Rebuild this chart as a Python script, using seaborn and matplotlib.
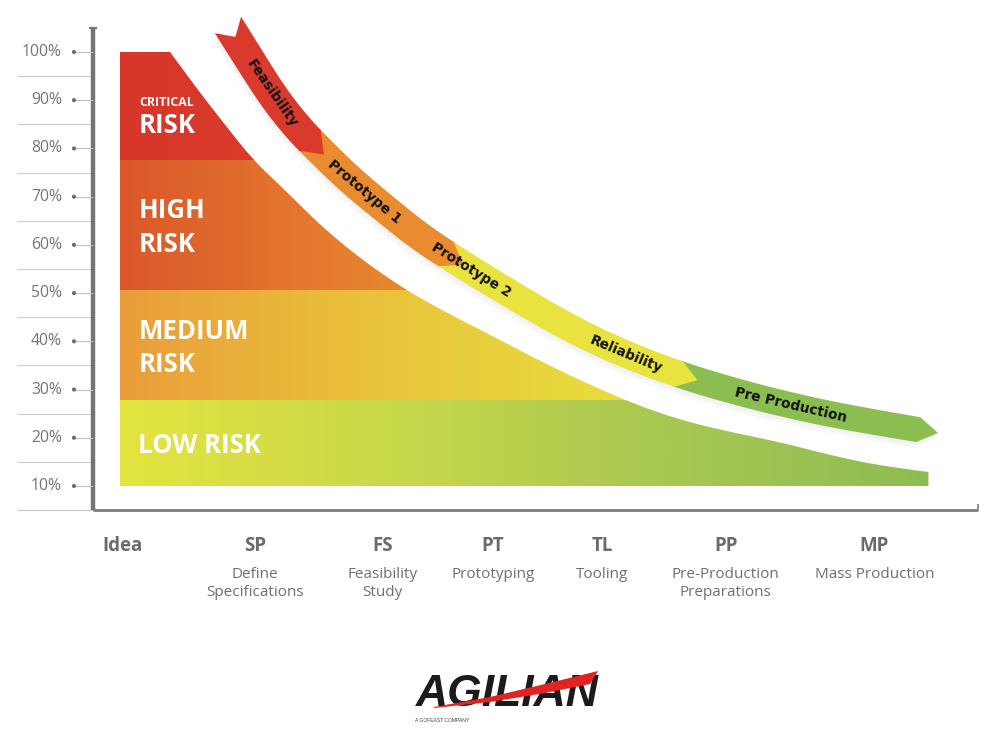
import numpy as np
import matplotlib
matplotlib.use("Agg")
import matplotlib.pyplot as plt
from matplotlib.patches import Polygon
import seaborn as sns

sns.set_theme(style="white")
plt.rcParams["font.family"] = ["Open Sans", "DejaVu Sans"]

# ---- data ----
pct_ticks = [10, 20, 30, 40, 50, 60, 70, 80, 90, 100]
grid_pct = [15, 25, 35, 45, 55, 65, 75, 85, 95]

stage_codes = ["Idea", "SP", "FS", "PT", "TL", "PP", "MP"]
stage_names = ["", "Define\nSpecifications", "Feasibility\nStudy", "Prototyping",
               "Tooling", "Pre-Production\nPreparations", "Mass Production"]
stage_x = [3.3, 18.3, 32.7, 45.2, 57.5, 71.5, 88.3]

# risk bands, bottom to top
band_lo = [10, 27.8, 50.6, 77.6]
band_hi = [27.8, 50.6, 77.6, 100]
band_colors = [["#e4e440", "#c8d84a", "#a8c752", "#8cbd52"],
               ["#e99d3a", "#eab73a", "#e9cd3c", "#e8de3e"],
               ["#db572b", "#e2712d", "#e98a30"],
               ["#d7362a", "#da3b2b"]]
band_left = 3.05

# risk curve (upper edge of the coloured area)
risk_x = [8.7, 10.7, 12.7, 15.4, 18.1, 22.0, 25.9, 30.4, 35.3, 40.0, 44.5,
          51.8, 60.0, 66.3, 72.0, 77.6, 83.3, 88.9, 94.4]
risk_y = [100.0, 95.0, 90.1, 83.8, 77.6, 70.8, 63.7, 56.9, 50.7, 45.9, 41.7,
          34.7, 27.8, 23.7, 21.2, 19.1, 16.4, 14.2, 12.9]

# phase arrow centre line
arrow_x = [15.25, 17.74, 20.45, 23.16, 25.88, 29.04, 32.43, 36.95, 41.81, 48.25,
           54.46, 60.23, 66.33, 73.11, 79.89, 86.67, 95.48]
arrow_y = [105.6, 98.3, 90.5, 84.2, 79.1, 73.5, 68.3, 61.6, 55.8, 48.6,
           42.1, 37.2, 33.0, 29.3, 26.2, 23.7, 21.0]
phase_end_x = [26.1, 41.8, 68.3, 95.48]
phase_colors = ["#d93a2b", "#e98c30", "#e8e33e", "#8cbd50"]
phase_names = ["Feasibility", "Prototype 1", "Prototype 2", "Reliability", "Pre Production"]
phase_label_x = [20.2, 30.7, 42.7, 60.2, 78.8]


def qspline(P, n=24):
    # quadratic b-spline through the read points, only used for drawing smooth edges
    P = np.asarray(P, dtype=float)
    out = [P[:1]]
    start = P[0]
    for i in range(1, len(P) - 1):
        end = P[-1] if i == len(P) - 2 else (P[i] + P[i + 1]) / 2
        t = np.linspace(0, 1, n)[1:, None]
        out.append((1 - t) ** 2 * start + 2 * (1 - t) * t * P[i] + t ** 2 * end)
        start = end
    return np.vstack(out)


# ---- figure ----
fig = plt.figure(figsize=(10, 7.34), dpi=100)
ax = fig.add_axes([0, 0, 1, 1])
ax.set_xlim(-10.508, 102.486)
ax.set_ylim(-41.43, 110.78)
ax.set_autoscale_on(False)
ax.axis("off")
inv = ax.transData.inverted()


def pix(px, py):
    return inv.transform((px, 734 - py))


# coloured risk area with horizontal gradients
edge = qspline(np.column_stack([risk_x, risk_y]))
area = np.vstack([[[band_left, 100]], edge, [[risk_x[-1], 10], [band_left, 10]]])
rx_rev, ry_rev = risk_x[::-1], risk_y[::-1]
for lo, hi, cols in zip(band_lo, band_hi, band_colors):
    right = np.interp(lo, ry_rev, rx_rev) + 1
    grad = np.array(sns.blend_palette(cols, n_colors=256))[None, :, :]
    clip = Polygon(area, closed=True, transform=ax.transData)
    im = ax.imshow(grad, extent=[band_left, right, lo, hi], aspect="auto",
                   interpolation="bicubic", zorder=1)
    im.set_clip_path(clip)

# axes, grid, ticks
ax.hlines(grid_pct, -8.6, 0, color="#cdcdcd", lw=0.8, zorder=1)
ax.hlines(5, -8.6, 0, color="#c4c4c4", lw=0.8, zorder=1)
ax.hlines(5, 0, 100, color="#7c7c7c", lw=2.0, zorder=2)
ax.vlines(100, 5, 6.3, color="#7c7c7c", lw=1.2)
ax.vlines(0, 5, 105, color="#747474", lw=3.2, zorder=2)
ax.hlines(105, -0.45, 0.5, color="#747474", lw=1.6)
ax.hlines(pct_ticks, -2.0, 0, color="#c2c2c2", lw=0.8)
sns.scatterplot(x=[-2.15] * len(pct_ticks), y=pct_ticks, s=9, color="#6e6e6e",
                edgecolor="none", ax=ax, zorder=3)
for v in pct_ticks:
    ax.text(-3.5, v, f"{v}%", ha="right", va="center", fontsize=11.3, color="#747474")

# stage labels
for code, name, sx in zip(stage_codes, stage_names, stage_x):
    ax.text(sx, -3.48, code, ha="center", va="baseline", fontsize=13.5,
            fontweight="bold", color="#6b6b6b")
    for i, line in enumerate(name.split("\n")):
        ax.text(sx, -9.08 - 3.75 * i, line, ha="center", va="baseline",
                fontsize=11, color="#6f6f6f")

# band labels
white = dict(color="white", fontweight="bold", ha="left", va="baseline", zorder=5)
ax.text(5.2, 88.8, "CRITICAL", fontsize=8.8, **white)
ax.text(5.1, 83.2, "RISK", fontsize=18.5, **white)
ax.text(5.1, 65.6, "HIGH", fontsize=18.5, **white)
ax.text(5.1, 58.5, "RISK", fontsize=18.5, **white)
ax.text(5.1, 40.5, "MEDIUM", fontsize=18.5, **white)
ax.text(5.1, 33.6, "RISK", fontsize=18.5, **white)
ax.text(5.1, 16.8, "LOW RISK", fontsize=18.5, **white)

# ---- phase arrow ----
C = qspline(ax.transData.transform(np.column_stack([arrow_x, arrow_y])), n=30)
d = np.diff(C, axis=0)
s = np.concatenate([[0], np.cumsum(np.hypot(d[:, 0], d[:, 1]))])
keep = np.concatenate([[True], np.diff(s) > 1e-9])
C, s = C[keep], s[keep]
S = s[-1]
tan = np.gradient(C, s, axis=0)
tan /= np.hypot(tan[:, 0], tan[:, 1])[:, None]


def along(sv):
    sv = np.atleast_1d(sv)
    c = np.column_stack([np.interp(sv, s, C[:, 0]), np.interp(sv, s, C[:, 1])])
    t = np.column_stack([np.interp(sv, s, tan[:, 0]), np.interp(sv, s, tan[:, 1])])
    t /= np.hypot(t[:, 0], t[:, 1])[:, None]
    return c, t


def ribbon(s0, s1, head=20, notch=0, extra=0):
    sv = np.linspace(s0, s1 - head, 160)
    c, t = along(sv)
    n = np.column_stack([-t[:, 1], t[:, 0]])
    hw = ((31 - 6 * sv / S) / 2 + extra)[:, None]
    tip, _ = along(s1)
    pts = [c + n * hw, tip, (c - n * hw)[::-1]]
    if notch:
        c0, t0 = along(s0)
        pts.append(c0 + t0 * notch)
    return np.vstack(pts)


# soft shadow
for k, (ox, oy) in enumerate([(-1, -3), (-2, -5)]):
    sh = ribbon(0, S, notch=14, extra=k) + np.array([ox, oy])
    ax.add_patch(Polygon(inv.transform(sh), closed=True, facecolor="#707080",
                         edgecolor="none", alpha=0.045, zorder=2))

head = 20
ends = [np.interp(ax.transData.transform((ex, 0))[0], C[:, 0], s) for ex in phase_end_x]
starts = [0] + [e - head - 2 for e in ends[:-1]]
for i in range(len(ends) - 1, -1, -1):
    poly = ribbon(starts[i], ends[i], head=head, notch=14 if i == 0 else 0)
    ax.add_patch(Polygon(inv.transform(poly), closed=True, facecolor=phase_colors[i],
                         edgecolor="none", zorder=3 + 0.1 * (4 - i)))

for name, lx in zip(phase_names, phase_label_x):
    sv = np.interp(ax.transData.transform((lx, 0))[0], C[:, 0], s)
    c, t = along(sv)
    ang = np.degrees(np.arctan2(t[0, 1], t[0, 0]))
    xd, yd = inv.transform(c[0])
    ax.text(xd, yd, name, rotation=ang, rotation_mode="anchor", ha="center",
            va="center", fontsize=9.8, fontweight="bold", family="DejaVu Sans",
            color="#111111", zorder=6)

# ---- logo ----
gx, gy = pix(507, 706)
ax.text(gx, gy, "AGILIAN", ha="center", va="baseline", fontsize=32,
        fontweight="bold", style="italic", family="Liberation Sans", color="#1b1b1b")
swoosh = [pix(434, 707), pix(490, 697), pix(545, 684), pix(598, 671),
          pix(590, 684), pix(545, 693), pix(490, 702), pix(434, 708)]
ax.add_patch(Polygon(swoosh, closed=True, facecolor="#e32222", edgecolor="none", zorder=6))
lx, ly = pix(415, 722)
ax.text(lx, ly, "A GOFEAST COMPANY", ha="left", va="baseline", fontsize=3.6,
        color="#444444", family="Liberation Sans")

fig.savefig("out.png", dpi=100, facecolor="white")
